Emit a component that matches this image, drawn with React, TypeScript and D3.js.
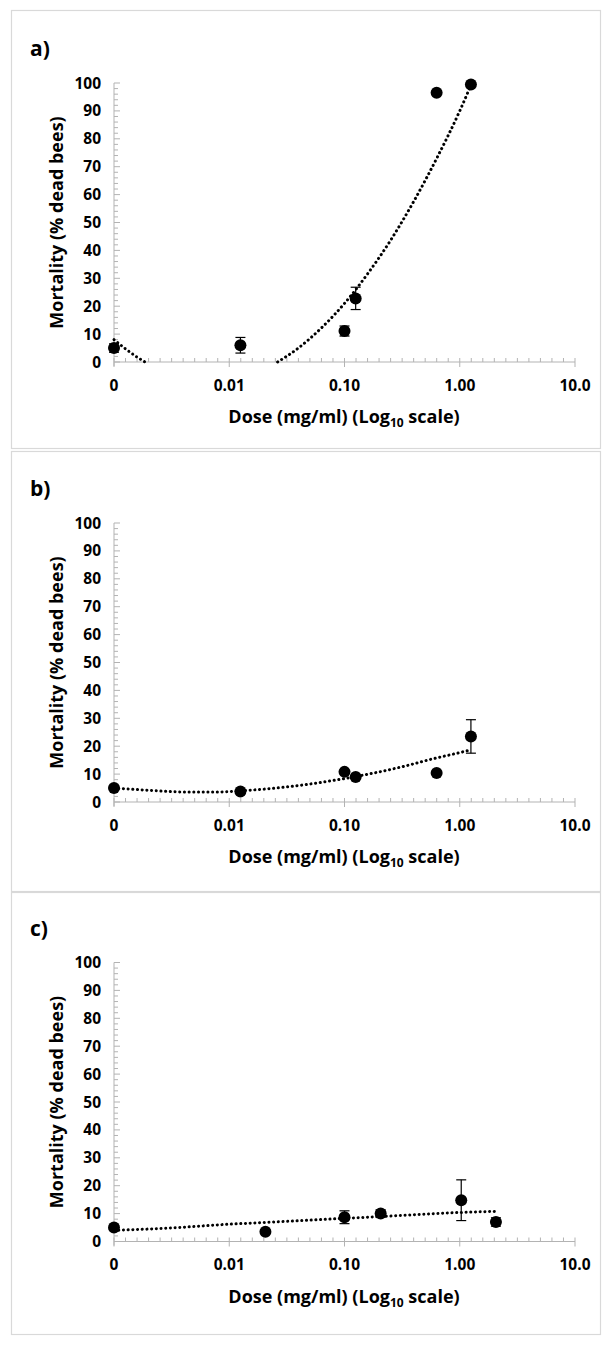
import React from 'react'
import * as d3 from 'd3'

// axis ticks
const doseTicks = [0.001, 0.01, 0.1, 1, 10]
const doseTickLabels = ['0', '0.01', '0.10', '1.00', '10.0']
const mortalityTicks = [0, 10, 20, 30, 40, 50, 60, 70, 80, 90, 100]

// panel a
const dosesA = [0.001, 0.0125, 0.1, 0.125, 0.63, 1.25]
const mortalityA = [5, 6, 11.1, 22.8, 96.5, 99.5]
const errorA = [1.5, 2.8, 1.8, 4, 0, 0]
const trendDoseA1 = [0.001, 0.00126, 0.00158, 0.00186]
const trendMortA1 = [8, 4.7, 1.8, 0]
const trendDoseA2 = [0.0263, 0.0398, 0.063, 0.1, 0.158, 0.251, 0.398, 0.631, 1.0, 1.25]
const trendMortA2 = [0, 5, 12.2, 21, 31.5, 43.6, 57.5, 73, 90, 99.2]

// panel b
const dosesB = [0.001, 0.0125, 0.1, 0.125, 0.63, 1.25]
const mortalityB = [5, 3.8, 10.8, 9, 10.4, 23.5]
const errorB = [0, 0, 0, 0, 0, 6]
const trendDoseB = [0.001, 0.002, 0.004, 0.008, 0.0125, 0.03, 0.1, 0.3, 0.63, 1.0, 1.25]
const trendMortB = [5, 4.2, 3.6, 3.6, 4.0, 5.3, 8.4, 12.4, 15.8, 17.7, 18.7]

// panel c
const dosesC = [0.001, 0.0206, 0.1, 0.206, 1.03, 2.06]
const mortalityC = [5, 3.5, 8.7, 10, 14.8, 7]
const errorC = [0, 0, 2.3, 1.3, 7.3, 1.5]
const trendDoseC = [0.001, 0.003, 0.01, 0.02, 0.1, 0.2, 0.5, 1.0, 2.06]
const trendMortC = [4.0, 4.8, 6.2, 6.8, 8.3, 8.9, 9.8, 10.4, 10.8]

const zip = (xs: number[], ys: number[]) => xs.map((x, i) => [x, ys[i]] as [number, number])

type PanelDef = {
  label: string
  top: number
  frameY: number
  frameH: number
  doses: number[]
  mort: number[]
  err: number[]
  trends: [number, number][][]
}

const panels: PanelDef[] = [
  { label: 'a)', top: 10, frameY: 10.5, frameH: 438, doses: dosesA, mort: mortalityA, err: errorA,
    trends: [zip(trendDoseA1, trendMortA1), zip(trendDoseA2, trendMortA2)] },
  { label: 'b)', top: 450, frameY: 451.5, frameH: 440, doses: dosesB, mort: mortalityB, err: errorB,
    trends: [zip(trendDoseB, trendMortB)] },
  { label: 'c)', top: 889.5, frameY: 892.5, frameH: 442, doses: dosesC, mort: mortalityC, err: errorC,
    trends: [zip(trendDoseC, trendMortC)] },
]

const FONT = "'Open Sans', 'Noto Sans', sans-serif"
const AXIS = '#b3b3b3'

const Panel = ({ p }: { p: PanelDef }) => {
  const x = d3.scaleLog().domain([0.001, 10]).range([114, 575])
  const y = d3.scaleLinear().domain([0, 100]).range([p.top + 352, p.top + 73])
  const y0 = y(0)
  const minorX: number[] = []
  for (let k = -3; k < 1; k++) for (let i = 1; i < 10; i++) minorX.push(Math.pow(10, k + i / 10))
  const minorY = d3.range(0, 101, 2)
  const line = d3.line<[number, number]>().x(d => x(d[0])).y(d => y(d[1])).curve(d3.curveMonotoneX)
  const midY = (y(0) + y(100)) / 2

  return (
    <g>
      <rect x={11.5} y={p.frameY} width={589} height={p.frameH} fill="none" stroke="#d9d9d9" strokeWidth={1.2} />
      <text x={30} y={p.top + 46} fontFamily={FONT} fontWeight={700} fontSize={21}>{p.label}</text>

      {/* y axis */}
      <line x1={x(0.001)} x2={x(0.001)} y1={y(100)} y2={y0 + 4} stroke={AXIS} />
      {minorY.map(v => (
        <line key={'my' + v} x1={x(0.001)} x2={x(0.001) + (v % 10 === 0 ? 6 : 4)} y1={y(v)} y2={y(v)} stroke={AXIS} />
      ))}
      {mortalityTicks.map(v => (
        <text key={'ty' + v} x={101} y={y(v)} dy="0.36em" textAnchor="end" fontFamily={FONT} fontWeight={700} fontSize={15.5}>{v}</text>
      ))}

      {/* x axis */}
      <line x1={x(0.001)} x2={x(10)} y1={y0} y2={y0} stroke={AXIS} />
      {minorX.map((v, i) => (
        <line key={'mx' + i} x1={x(v)} x2={x(v)} y1={y0} y2={y0 - 4} stroke={AXIS} />
      ))}
      {doseTicks.map(v => (
        <line key={'tx' + v} x1={x(v)} x2={x(v)} y1={y0 - 4} y2={y0 + 5} stroke={AXIS} />
      ))}
      {doseTicks.map((v, i) => (
        <text key={'lx' + v} x={x(v)} y={y0 + 23} dy="0.36em" textAnchor="middle" fontFamily={FONT} fontWeight={700} fontSize={15.5}>{doseTickLabels[i]}</text>
      ))}

      <text x={344} y={y0 + 55} dy="0.36em" textAnchor="middle" fontFamily={FONT} fontWeight={700} fontSize={18}>
        Dose (mg/ml) (Log<tspan fontSize={12} dy={4}>10</tspan><tspan dy={-4}> scale)</tspan>
      </text>
      <text transform={`translate(57,${midY}) rotate(-90)`} dy="0.36em" textAnchor="middle" fontFamily={FONT} fontWeight={700} fontSize={18}>
        Mortality (% dead bees)
      </text>

      {/* trend lines */}
      {p.trends.map((t, i) => (
        <path key={'tr' + i} d={line(t) || ''} fill="none" stroke="#000" strokeWidth={3} strokeLinecap="round" strokeDasharray="0.1 4.6" />
      ))}

      {/* error bars */}
      {p.doses.map((d, i) => p.err[i] > 0 ? (
        <g key={'e' + i} stroke="#000" strokeWidth={1.2}>
          <line x1={x(d)} x2={x(d)} y1={y(p.mort[i] + p.err[i])} y2={y(p.mort[i] - p.err[i])} />
          <line x1={x(d) - 5} x2={x(d) + 5} y1={y(p.mort[i] + p.err[i])} y2={y(p.mort[i] + p.err[i])} />
          <line x1={x(d) - 5} x2={x(d) + 5} y1={y(p.mort[i] - p.err[i])} y2={y(p.mort[i] - p.err[i])} />
        </g>
      ) : null)}

      {/* points */}
      {p.doses.map((d, i) => (
        <circle key={'c' + i} cx={x(d)} cy={y(p.mort[i])} r={6} fill="#000" />
      ))}
    </g>
  )
}

export default function App() {
  return (
    <div style={{ position: 'absolute', left: 0, top: 0 }}>
      <svg width={612} height={1347} style={{ display: 'block', background: '#fff' }}>
        {panels.map(p => <Panel key={p.label} p={p} />)}
      </svg>
    </div>
  )
}
